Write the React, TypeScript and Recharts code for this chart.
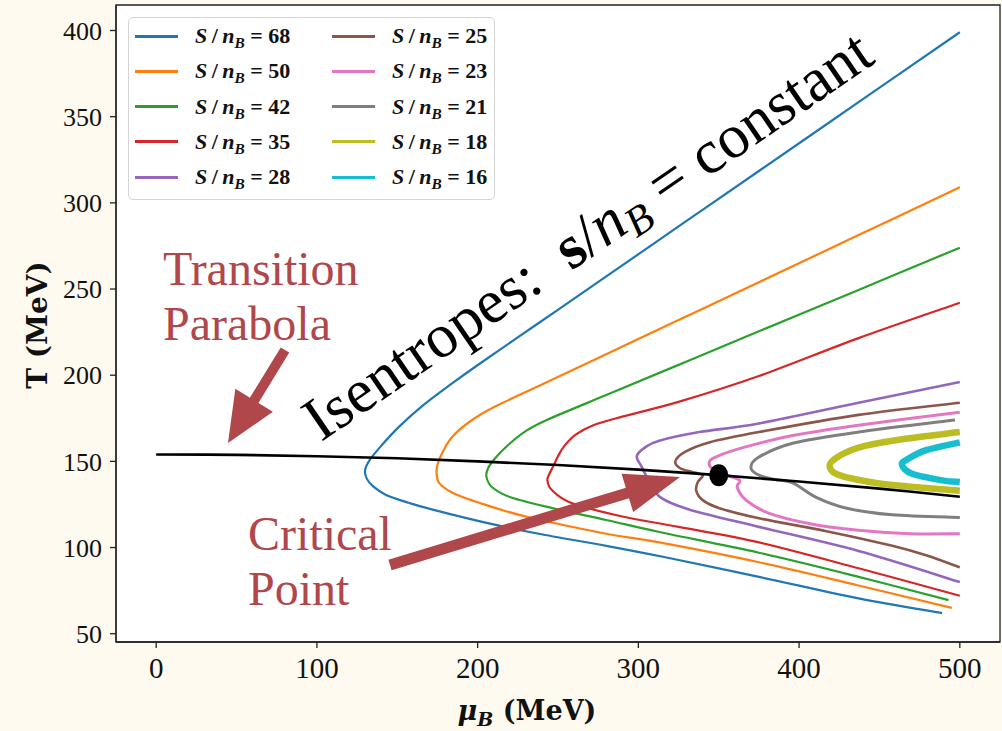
import React from "react";
import {
  LineChart,
  Line,
  XAxis,
  YAxis,
  CartesianGrid,
  ReferenceArea,
  ReferenceDot,
  Legend,
} from "recharts";

type Pt = [number, number]; // [mu_B (MeV), T (MeV)]

// isentrope labels, S/n_B
const ENTROPY_LABELS = [68, 50, 42, 35, 28, 25, 23, 21, 18, 16];

const S68: Pt[] = [
  [500, 399], [437, 358.4], [375, 318.5], [325, 286.3], [276, 254.7], [238, 230.3],
  [201, 206.5], [183, 194.5], [166, 182.5], [151, 170], [140, 159], [133, 151],
  [130, 145], [131, 140], [135, 135.5], [143, 130.5], [157, 126], [172, 122],
  [207, 114], [238, 108], [280, 101], [316, 94.5], [375, 83], [437, 70.5], [489, 62],
];
const S50: Pt[] = [
  [500, 309], [437, 281.3], [375, 254], [325, 232], [276, 210.4], [240, 194.6],
  [210, 181.4], [195, 173], [184, 164], [178, 155], [175, 148], [174.5, 143],
  [176, 137.5], [184, 132], [201, 126], [230, 118], [280, 108], [313, 103],
  [375, 91.5], [437, 78], [495, 65],
];
const S42: Pt[] = [
  [500, 274], [437, 249.5], [375, 225.5], [325, 206], [280, 188.5], [243, 174],
  [229, 167], [219, 159.5], [211, 152], [206.5, 146], [205.5, 141], [209, 135],
  [221, 129], [246, 123], [280, 116], [313, 109], [375, 97], [437, 83], [493, 69.5],
];
const S35: Pt[] = [
  [500, 242], [437, 221.5], [375, 199.5], [325, 184.5], [290, 176], [272, 171],
  [261, 165.5], [254, 159], [250, 153], [247.5, 148], [244, 141.5], [243.5, 138.5],
  [246, 133.5], [258, 126], [290, 118], [325, 112], [375, 103], [437, 88], [500, 72],
];
const S28: Pt[] = [
  [500, 196], [437, 184], [375, 172], [338, 167], [313, 162], [304, 158],
  [299, 153], [302, 147], [307, 138], [314, 129], [332, 122], [375, 112],
  [437, 98], [500, 80],
];
const S25: Pt[] = [
  [500, 184], [437, 177], [375, 167], [344, 161], [329, 155.5], [323, 150],
  [326, 146], [333, 144], [340, 142], [337, 138], [336, 133], [340, 127.5],
  [350, 123], [375, 117], [417, 109.5], [458, 101], [479, 95.5], [500, 88.5],
];
const S23: Pt[] = [
  [500, 178.5], [437, 171], [396, 165], [365, 158], [348, 152.5], [344, 149],
  [347, 145], [355, 142], [363, 139], [361.5, 135], [367, 127.5], [381, 120],
  [406, 114], [437, 110], [469, 108], [500, 108],
];
const S21: Pt[] = [
  [497, 174], [437, 167], [396, 160.5], [375, 152.5], [370, 146.5], [375, 142],
  [385, 139.5], [396, 137.5], [411, 129], [429, 123], [458, 119], [500, 117.5],
];
const S18: Pt[] = [
  [500, 167], [458, 162], [437, 158], [423, 152], [419, 147], [425, 142],
  [448, 137.5], [479, 134.5], [500, 133],
];
const S16: Pt[] = [
  [500, 161], [479, 156.5], [467, 151], [464, 148], [470, 143], [489, 139],
  [500, 138],
];

// transition line and the critical point on it
const PARABOLA: Pt[] = [
  [0, 154], [50, 153.8], [100, 153], [150, 151.8], [200, 150], [250, 147.9],
  [300, 145.2], [350, 142], [400, 138.3], [450, 134.2], [500, 129.5],
];
const CRITICAL_POINT: Pt = [350, 142];

const X_TICKS = [0, 100, 200, 300, 400, 500];
const Y_TICKS = [50, 100, 150, 200, 250, 300, 350, 400];
const X_DOMAIN: Pt = [-25, 525];
const Y_DOMAIN: Pt = [45.2, 414.8];

const ISENTROPES = [S68, S50, S42, S35, S28, S25, S23, S21, S18, S16];
const COLORS = [
  "#1f77b4", "#ff7f0e", "#2ca02c", "#d62728", "#9467bd",
  "#8c564b", "#e377c2", "#7f7f7f", "#bcbd22", "#17becf",
];
const WIDTHS = [2.2, 2.2, 2.2, 2.2, 2.6, 2.6, 3, 3, 6.5, 6.5];

const ANNOT = "#b0474b";
const SERIF = "'Liberation Serif', 'Times New Roman', serif";

const rows = (pts: Pt[]) => pts.map(([mu, T]) => ({ mu, T }));

// Catmull-Rom through the points; the isentropes fold back in mu, so the
// curve has to be parametric rather than monotone in x.
function catmullRom(context: any) {
  let pts: number[][] = [];
  return {
    areaStart() {},
    areaEnd() {},
    lineStart() {
      pts = [];
    },
    point(x: number, y: number) {
      pts.push([+x, +y]);
    },
    lineEnd() {
      const n = pts.length;
      if (!n) return;
      context.moveTo(pts[0][0], pts[0][1]);
      for (let i = 0; i < n - 1; i++) {
        const p0 = pts[Math.max(i - 1, 0)];
        const p1 = pts[i];
        const p2 = pts[i + 1];
        const p3 = pts[Math.min(i + 2, n - 1)];
        context.bezierCurveTo(
          p1[0] + (p2[0] - p0[0]) / 6,
          p1[1] + (p2[1] - p0[1]) / 6,
          p2[0] - (p3[0] - p1[0]) / 6,
          p2[1] - (p3[1] - p1[1]) / 6,
          p2[0],
          p2[1]
        );
      }
    },
  };
}

function EntropyLegend() {
  return (
    <div
      style={{
        position: "relative",
        width: 367,
        height: 183,
        background: "#fff",
        border: "1px solid #d4d4d4",
        borderRadius: 5,
        boxSizing: "border-box",
        fontFamily: SERIF,
        fontWeight: "bold",
        fontSize: 22,
        color: "#111",
      }}
    >
      {ENTROPY_LABELS.map((s, i) => {
        const col = Math.floor(i / 5);
        const row = i % 5;
        const cy = 18 + row * 35.3;
        const x0 = col === 0 ? 6 : 203;
        return (
          <div key={s}>
            <div
              style={{
                position: "absolute",
                left: x0,
                top: cy - 1.5,
                width: 43,
                height: 3,
                background: COLORS[i],
              }}
            />
            <div
              style={{
                position: "absolute",
                left: x0 + 60,
                top: cy - 15,
                height: 30,
                lineHeight: "30px",
                whiteSpace: "nowrap",
              }}
            >
              <i>S</i>
              {"\u2009/\u2009"}
              <i>n</i>
              <sub style={{ fontSize: "0.7em", verticalAlign: "-0.3em" }}>
                <i>B</i>
              </sub>
              {` = ${s}`}
            </div>
          </div>
        );
      })}
    </div>
  );
}

function Arrow({ tail, tip, head, half, width }: { tail: Pt; tip: Pt; head: number; half: number; width: number }) {
  const dx = tip[0] - tail[0];
  const dy = tip[1] - tail[1];
  const len = Math.hypot(dx, dy);
  const ux = dx / len;
  const uy = dy / len;
  const bx = tip[0] - ux * head;
  const by = tip[1] - uy * head;
  const pts = [
    [tip[0], tip[1]],
    [bx - uy * half, by + ux * half],
    [bx + uy * half, by - ux * half],
  ];
  return (
    <g>
      <line x1={tail[0]} y1={tail[1]} x2={bx + ux * 2} y2={by + uy * 2} stroke={ANNOT} strokeWidth={width} />
      <polygon points={pts.map((p) => p.join(",")).join(" ")} fill={ANNOT} />
    </g>
  );
}

export default function App() {
  return (
    <div
      style={{
        position: "absolute",
        left: 0,
        top: 0,
        width: 1002,
        height: 731,
        background: "#fffaf0",
        overflow: "hidden",
      }}
    >
      <LineChart width={1002} height={731} margin={{ top: 5, right: 2, bottom: 0, left: 0 }}>
        <CartesianGrid horizontal={false} vertical={false} fill="#ffffff" />
        <XAxis
          type="number"
          dataKey="mu"
          domain={X_DOMAIN}
          ticks={X_TICKS}
          allowDataOverflow
          height={89}
          tickSize={6}
          tickMargin={9}
          stroke="#222"
          strokeWidth={1.3}
          tick={{ fontFamily: SERIF, fontSize: 29, fill: "#111" }}
        />
        <YAxis
          type="number"
          dataKey="T"
          domain={Y_DOMAIN}
          ticks={Y_TICKS}
          allowDataOverflow
          width={116}
          tickSize={6}
          tickMargin={8}
          stroke="#222"
          strokeWidth={1.3}
          tick={{ fontFamily: SERIF, fontSize: 26, fill: "#111" }}
        />
        {ISENTROPES.map((pts, i) => (
          <Line
            key={ENTROPY_LABELS[i]}
            data={rows(pts)}
            dataKey="T"
            name={`S/nB = ${ENTROPY_LABELS[i]}`}
            type={catmullRom as any}
            stroke={COLORS[i]}
            strokeWidth={WIDTHS[i]}
            dot={false}
            activeDot={false}
            isAnimationActive={false}
          />
        ))}
        <Line
          data={rows(PARABOLA)}
          dataKey="T"
          name="transition"
          type={catmullRom as any}
          stroke="#000"
          strokeWidth={2.6}
          dot={false}
          activeDot={false}
          legendType="none"
          isAnimationActive={false}
        />
        <ReferenceDot
          x={CRITICAL_POINT[0]}
          y={CRITICAL_POINT[1]}
          r={10}
          shape={(p: any) => <ellipse cx={p.cx} cy={p.cy} rx={9.5} ry={11} fill="#000" />}
        />
        <ReferenceArea
          x1={X_DOMAIN[0]}
          x2={X_DOMAIN[1]}
          y1={Y_DOMAIN[0]}
          y2={Y_DOMAIN[1]}
          fill="none"
          fillOpacity={0}
          stroke="#222"
          strokeWidth={1.3}
          ifOverflow="visible"
        />
        <Legend
          layout="horizontal"
          verticalAlign="middle"
          align="center"
          wrapperStyle={{ left: 128, top: 17, width: 367, height: 183 }}
          content={() => <EntropyLegend />}
        />
      </LineChart>

      <svg
        width={1002}
        height={731}
        style={{ position: "absolute", left: 0, top: 0, pointerEvents: "none" }}
      >
        {/* axis titles */}
        <text
          transform="translate(47,325) rotate(-90)"
          textAnchor="middle"
          fontFamily="'DejaVu Serif', serif"
          fontWeight="bold"
          fontSize={28}
          fill="#111"
        >
          T (MeV)
        </text>
        <text
          x={527}
          y={720}
          textAnchor="middle"
          fontFamily="'DejaVu Serif', serif"
          fontWeight="bold"
          fontSize={27}
          fill="#111"
        >
          <tspan fontStyle="italic">μ</tspan>
          <tspan fontStyle="italic" fontSize={19} dy={6}>B</tspan>
          <tspan dy={-6}> (MeV)</tspan>
        </text>

        {/* annotations */}
        <g fontFamily={SERIF} fontSize={48} fill={ANNOT}>
          <text x={163} y={285}>Transition</text>
          <text x={163} y={340}>Parabola</text>
          <text x={248} y={550}>Critical</text>
          <text x={248} y={605}>Point</text>
        </g>
        <Arrow tail={[285, 350]} tip={[228, 443]} head={50} half={22} width={10} />
        <Arrow tail={[390, 565]} tip={[680, 477]} head={55} half={20} width={11} />

        <text
          transform="translate(599,252) rotate(-34.4)"
          textAnchor="middle"
          fontFamily={SERIF}
          fontSize={62}
          fill="#000"
        >
          Isentropes:{"\u2002"}
          <tspan fontWeight="bold">s</tspan>
          <tspan>/</tspan>
          <tspan fontStyle="italic">n</tspan>
          <tspan fontStyle="italic" fontSize={42} dy={10}>B</tspan>
          <tspan dy={-10}> = constant</tspan>
        </text>
      </svg>
    </div>
  );
}
